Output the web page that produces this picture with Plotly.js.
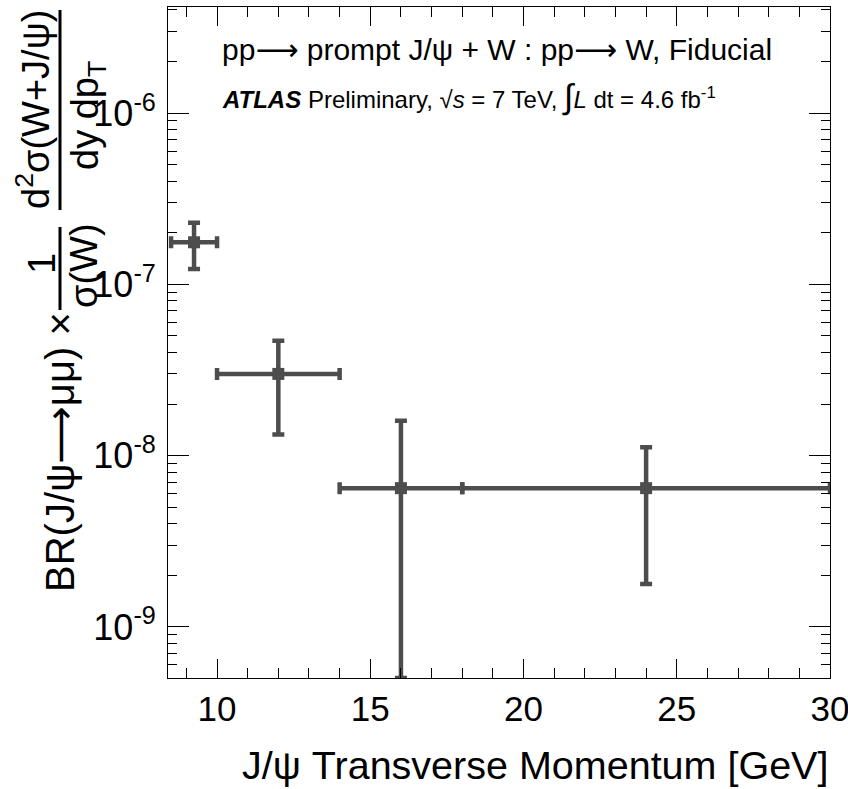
<!DOCTYPE html>
<html>
<head>
<meta charset="utf-8">
<script src="https://cdn.plot.ly/plotly-3.0.1.min.js"></script>
<style>body{margin:0;padding:0;background:#fff;} #chart{width:848px;height:789px;}</style>
</head>
<body>
<div id="chart"></div>
<script>
// Data
const ptCenter = [9.25, 12, 16, 24];
const binLow   = [8.5, 10, 14, 18];
const binHigh  = [10, 14, 18, 30];
const value    = [1.76e-7, 3.0e-8, 6.46e-9, 6.46e-9];
const errUpTo  = [2.29e-7, 4.69e-8, 1.60e-8, 1.12e-8];
const errLowTo = [1.23e-7, 1.33e-8, 5.03e-10, 1.78e-9];

const xTickVals = [10, 15, 20, 25, 30];
const yTickVals = [1e-9, 1e-8, 1e-7, 1e-6];
const yTickText = ['10<sup>-9</sup>', '10<sup>-8</sup>', '10<sup>-7</sup>', '10<sup>-6</sup>'];

const W = 848, H = 789;
const L = 168, R = 18, T = 7, B = 111;
const pw = W - L - R, ph = H - T - B;
const px = v => (v - L) / pw;
const py = v => (H - B - v) / ph;

const col = '#4d4d4d';
const font = 'Liberation Sans, Arial, Helvetica, sans-serif';
const arrow = '<span style="font-family:DejaVu Sans">⟶</span>';

const trace = {
  type: 'scatter', mode: 'markers',
  x: ptCenter, y: value,
  marker: {symbol: 'square', size: 12, color: col},
  error_y: {type: 'data', symmetric: false,
    array: value.map((v, i) => errUpTo[i] - v),
    arrayminus: value.map((v, i) => v - errLowTo[i]),
    color: col, thickness: 4.5, width: 6},
  error_x: {type: 'data', symmetric: false,
    array: ptCenter.map((c, i) => binHigh[i] - c),
    arrayminus: ptCenter.map((c, i) => c - binLow[i]),
    color: col, thickness: 4.5, width: 6},
  hoverinfo: 'skip', showlegend: false
};

const ann = [];
function A(text, x, y, size, opts) {
  ann.push(Object.assign({text: text, x: px(x), y: py(y), xref: 'paper', yref: 'paper',
    showarrow: false, xanchor: 'center', yanchor: 'middle',
    font: {family: font, size: size, color: '#000'}}, opts || {}));
}
// y title
A('BR(J/ψ' + arrow + 'μμ) ×', 60, 452, 40, {textangle: -90});
A('1', 42, 264, 38, {textangle: -90});
A('σ(W)', 84, 266, 38, {textangle: -90});
A('d<sup>2</sup>σ(W+J/ψ)', 33, 110, 38, {textangle: -90});
A('dy dp<sub>T</sub>', 88, 116, 38, {textangle: -90});
// x title
A('J/ψ Transverse Momentum [GeV]', 830, 765, 39.5, {xanchor: 'right'});
// header texts
A('pp' + arrow + ' prompt J/ψ + W : pp' + arrow + ' W, Fiducial', 220, 50, 30, {xanchor: 'left'});
A('<b><i>ATLAS</i></b> Preliminary, √<i>s</i> = 7 TeV, <span style="font-size:34px">∫</span><i>L</i> dt = 4.6 fb<sup>-1</sup>', 220, 97, 24, {xanchor: 'left'});

const shapes = [
  {type: 'line', xref: 'paper', yref: 'paper', x0: px(60), x1: px(60), y0: py(227), y1: py(310), line: {color: '#000', width: 3}},
  {type: 'line', xref: 'paper', yref: 'paper', x0: px(60), x1: px(60), y0: py(10), y1: py(210), line: {color: '#000', width: 3}}
];

const layout = {
  width: W, height: H,
  margin: {l: L, r: R, t: T, b: B, pad: 0},
  paper_bgcolor: '#fff', plot_bgcolor: '#fff',
  showlegend: false,
  xaxis: {
    range: [8.4, 30], tickvals: xTickVals, ticktext: xTickVals.map(String),
    ticks: 'inside', ticklen: 19, tickwidth: 1, tickcolor: '#000',
    minor: {dtick: 1, ticks: 'inside', ticklen: 10, tickwidth: 1, tickcolor: '#000', showgrid: false},
    showline: true, linecolor: '#000', linewidth: 1, mirror: 'ticks',
    showgrid: false, zeroline: false, ticklabeloverflow: 'allow',
    tickfont: {family: font, size: 35, color: '#000'}
  },
  yaxis: {
    type: 'log', range: [-9.298, -5.381],
    tickvals: yTickVals, ticktext: yTickText,
    ticks: 'inside', ticklen: 21, tickwidth: 1, tickcolor: '#000',
    minor: {dtick: 'D1', ticks: 'inside', ticklen: 9, tickwidth: 1, tickcolor: '#000', showgrid: false},
    showline: true, linecolor: '#000', linewidth: 1, mirror: 'ticks',
    showgrid: false, zeroline: false, ticklabelstandoff: 4,
    tickfont: {family: font, size: 36, color: '#000'}
  },
  annotations: ann,
  shapes: shapes
};

Plotly.newPlot('chart', [trace], layout, {displayModeBar: false, staticPlot: true});
</script>
</body>
</html>
